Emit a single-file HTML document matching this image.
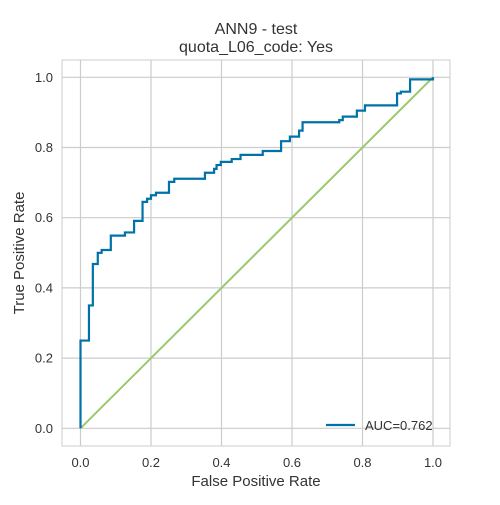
<!DOCTYPE html>
<html><head><meta charset="utf-8"><style>
body{margin:0;background:#fff;font-family:"Liberation Sans",sans-serif}
</style></head><body>
<svg id="chart" width="500" height="500" xmlns="http://www.w3.org/2000/svg" font-family="Liberation Sans, sans-serif"></svg>
<script>
const fprValues=[0,0,0.024,0.024,0.035,0.035,0.049,0.049,0.06,0.06,0.086,0.086,0.126,0.126,0.152,0.152,0.176,0.176,0.189,0.189,0.2,0.2,0.214,0.214,0.251,0.251,0.266,0.266,0.353,0.353,0.379,0.379,0.386,0.386,0.398,0.398,0.429,0.429,0.454,0.454,0.517,0.517,0.569,0.569,0.594,0.594,0.62,0.62,0.63,0.63,0.734,0.734,0.744,0.744,0.784,0.784,0.807,0.807,0.898,0.898,0.909,0.909,0.935,0.935,1.0,1.0];
const tprValues=[0,0.25,0.25,0.35,0.35,0.468,0.468,0.5,0.5,0.508,0.508,0.549,0.549,0.558,0.558,0.591,0.591,0.645,0.645,0.654,0.654,0.664,0.664,0.671,0.671,0.702,0.702,0.711,0.711,0.728,0.728,0.739,0.739,0.75,0.75,0.759,0.759,0.767,0.767,0.779,0.779,0.79,0.79,0.818,0.818,0.831,0.831,0.848,0.848,0.872,0.872,0.878,0.878,0.888,0.888,0.905,0.905,0.92,0.92,0.954,0.954,0.959,0.959,0.994,0.994,1.0];
const xTicks=[0,0.2,0.4,0.6,0.8,1.0];
const yTicks=[0,0.2,0.4,0.6,0.8,1.0];
const aucLabel="AUC=0.762";
const svg=document.getElementById('chart');
const NS="http://www.w3.org/2000/svg";
const L=62,R=450,T=60,B=446;
const sx=v=>80.5+v*352.5, sy=v=>428.3-v*351;
function mk(tag,attrs,parent){const e=document.createElementNS(NS,tag);for(const k in attrs)e.setAttribute(k,attrs[k]);(parent||svg).appendChild(e);return e;}
const frame=mk('rect',{x:L,y:T,width:R-L,height:B-T,fill:'#fff',stroke:'#ccc','stroke-width':1});


xTicks.forEach(t=>{
  const g=mk('line',{x1:sx(t),x2:sx(t),y1:T,y2:B,stroke:'#ccc','stroke-width':1.2});
  
  
  const tx=mk('text',{x:sx(t),y:467,'text-anchor':'middle','font-size':13,fill:'#333'});
  tx.textContent=t.toFixed(1);
  
  
});
yTicks.forEach(t=>{
  const g=mk('line',{x1:L,x2:R,y1:sy(t),y2:sy(t),stroke:'#ccc','stroke-width':1.2});
  
  
  const tx=mk('text',{x:53,y:sy(t)+4.5,'text-anchor':'end','font-size':13,fill:'#333'});
  tx.textContent=t.toFixed(1);
  
  
});
const diag=mk('line',{x1:sx(0),y1:sy(0),x2:sx(1),y2:sy(1),stroke:'#9bc86f','stroke-width':2});


const pts=fprValues.map((f,i)=>sx(f)+','+sy(tprValues[i])).join(' ');
const curve=mk('polyline',{points:pts,fill:'none',stroke:'#0072a8','stroke-width':2.2});


const ll=mk('line',{x1:326,x2:355,y1:425,y2:425,stroke:'#0072a8','stroke-width':2.2});


const lt=mk('text',{x:365,y:430,'font-size':13,fill:'#333'});
lt.textContent=aucLabel;


const t1=mk('text',{x:256,y:34,'text-anchor':'middle','font-size':16,fill:'#333'});
t1.textContent="ANN9 - test";


const t2=mk('text',{x:256,y:52,'text-anchor':'middle','font-size':16,fill:'#333'});
t2.textContent="quota_L06_code: Yes";


const xl=mk('text',{x:256,y:486,'text-anchor':'middle','font-size':15,fill:'#333'});
xl.textContent="False Positive Rate";


const yl=mk('text',{x:24,y:253,'text-anchor':'middle','font-size':15,fill:'#333',transform:'rotate(-90 24 253)'});
yl.textContent="True Positive Rate";


</script>
</body></html>
